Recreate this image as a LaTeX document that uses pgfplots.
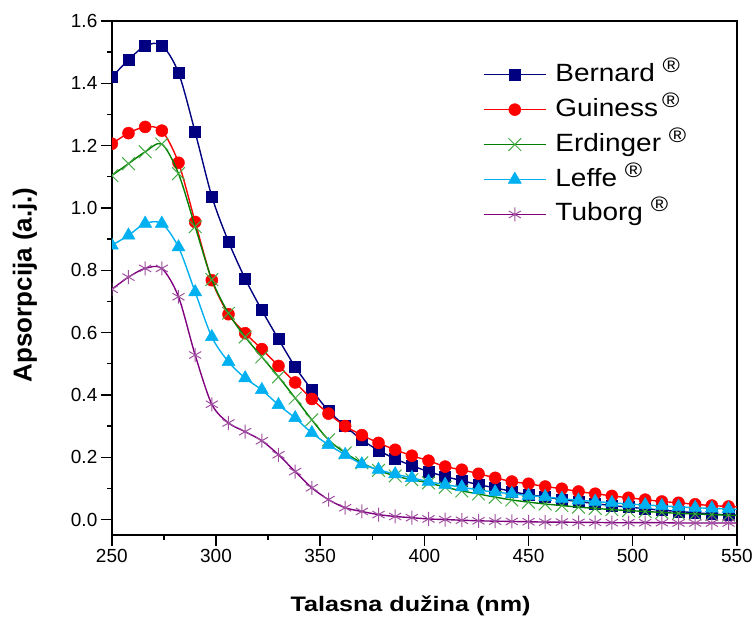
\documentclass[border=0pt]{standalone}
\usepackage{pgfplots}
\pgfplotsset{compat=1.18}
\usepackage{pgfplotstable}
\usepackage{fontspec}
\setmainfont{Liberation Sans}
\newfontfamily\legfont[FakeStretch=1.12]{Liberation Sans}
\newfontfamily\xlabfont[FakeStretch=1.2]{Liberation Sans}
\newcommand{\reg}{\raisebox{9pt}{\fontsize{21}{21}\selectfont ®}}
\definecolor{cnavy}{RGB}{0,0,128}
\definecolor{cred}{RGB}{255,0,0}
\definecolor{cgreen}{RGB}{0,128,0}
\definecolor{cgreenm}{RGB}{70,170,70}
\definecolor{ccyan}{RGB}{0,176,240}
\definecolor{cpurple}{RGB}{128,0,128}
\definecolor{cpurplem}{RGB}{160,80,160}
\pgfplotstableread{
x bernard guiness erdinger leffe tuborg
250 1.420 1.206 1.104 0.880 0.739
258 1.475 1.240 1.142 0.912 0.778
266 1.520 1.260 1.180 0.950 0.806
274 1.522 1.248 1.205 0.950 0.806
282 1.434 1.145 1.110 0.874 0.715
290 1.243 0.955 0.940 0.730 0.528
298 1.037 0.768 0.770 0.586 0.370
306 0.892 0.659 0.662 0.506 0.310
314 0.773 0.598 0.586 0.454 0.282
322 0.672 0.547 0.522 0.416 0.253
330 0.579 0.493 0.458 0.368 0.208
338 0.490 0.440 0.390 0.326 0.154
346 0.416 0.387 0.320 0.278 0.102
354 0.349 0.340 0.256 0.240 0.064
362 0.300 0.300 0.214 0.208 0.038
370 0.256 0.271 0.182 0.178 0.026
378 0.222 0.246 0.158 0.160 0.016
386 0.195 0.224 0.140 0.146 0.010
394 0.173 0.205 0.128 0.134 0.006
402 0.154 0.189 0.118 0.122 0.002
410 0.138 0.170 0.104 0.112 0.000
418 0.125 0.160 0.092 0.104 -0.002
426 0.112 0.147 0.082 0.095 -0.004
434 0.102 0.134 0.072 0.088 -0.005
442 0.090 0.122 0.063 0.083 -0.006
450 0.080 0.115 0.056 0.077 -0.007
458 0.073 0.106 0.050 0.073 -0.008
466 0.064 0.099 0.045 0.067 -0.008
474 0.058 0.090 0.040 0.062 -0.009
482 0.051 0.083 0.036 0.058 -0.009
490 0.045 0.076 0.032 0.054 -0.010
498 0.040 0.070 0.029 0.050 -0.010
506 0.035 0.064 0.026 0.047 -0.010
514 0.030 0.058 0.023 0.044 -0.010
522 0.026 0.054 0.020 0.041 -0.011
530 0.022 0.049 0.018 0.038 -0.011
538 0.018 0.045 0.016 0.036 -0.011
546 0.015 0.042 0.014 0.034 -0.011
550 0.014 0.041 0.013 0.033 -0.011
}\data
\begin{document}
\begin{tikzpicture}
\begin{axis}[
  name=ax,
  scale only axis,
  width=626pt, height=515pt,
  xmin=250, xmax=550, ymin=-0.05, ymax=1.6,
  xtick={250,300,...,550},
  ytick={0,0.2,0.4,0.6,0.8,1.0,1.2,1.4,1.6},
  minor x tick num=1, minor y tick num=1,
  tick pos=left,
  tick align=outside,
  major tick length=11pt, minor tick length=5pt,
  every tick/.style={black, line width=1.4pt},
  axis line style={line width=1.6pt},
  /pgf/number format/assume math mode=true,
  tick label style={font=\fontsize{19}{19}\selectfont},
  yticklabel style={/pgf/number format/fixed, /pgf/number format/precision=1, /pgf/number format/fixed zerofill},
  xticklabel style={/pgf/number format/1000 sep={}},
  xlabel={Talasna dužina (nm)},
  ylabel={Apsorpcija (a.j.)},
  every axis x label/.style={at={(axis description cs:0.478,-0.148)}, anchor=base, font=\xlabfont\fontsize{21}{21}\selectfont\bfseries},
  every axis y label/.style={at={(axis description cs:-0.139,0.487)}, rotate=90, anchor=center, font=\fontsize{26}{26}\selectfont\bfseries},
  clip marker paths=true,
  legend style={draw=none, fill=none, at={(axis description cs:0.589,0.926)}, anchor=north west,
    font=\legfont\fontsize{25}{25}\selectfont, row sep=8pt,
    nodes={inner sep=1pt, text height=19pt, text depth=6pt}},
  legend cell align=left,
  legend image code/.code={\draw[mark indices={2}] plot coordinates {(0pt,0pt) (31pt,0pt) (62pt,0pt)};\path (70pt,0pt);},
  every axis plot/.append style={line width=1.4pt, smooth, mark indices={1,...,38}},
]
\addplot[color=cnavy, mark=square*, mark size=5.5pt, mark options={fill=cnavy, line width=0.5pt}] table[x=x,y=bernard]{\data};
\addlegendentry{Bernard \reg}
\addplot[color=cred, mark=*, mark size=6pt, mark options={fill=cred, line width=0.5pt}] table[x=x,y=guiness]{\data};
\addlegendentry{Guiness\,\reg}
\addplot[color=cgreen, mark=x, mark size=9pt, mark options={draw=cgreenm, line width=1pt}] table[x=x,y=erdinger]{\data};
\addlegendentry{Erdinger \reg}
\addplot[color=ccyan, mark=triangle*, mark size=7.5pt, mark options={fill=ccyan, line width=0.5pt}] table[x=x,y=leffe]{\data};
\addlegendentry{Leffe \reg}
\addplot[color=cpurple, mark=asterisk, mark size=7pt, mark options={draw=cpurplem, line width=1pt}] table[x=x,y=tuborg]{\data};
\addlegendentry{Tuborg \reg}
\end{axis}
\useasboundingbox ([xshift=-112pt,yshift=-82pt]ax.south west) rectangle ([xshift=18pt,yshift=21pt]ax.north east);
\end{tikzpicture}
\end{document}
